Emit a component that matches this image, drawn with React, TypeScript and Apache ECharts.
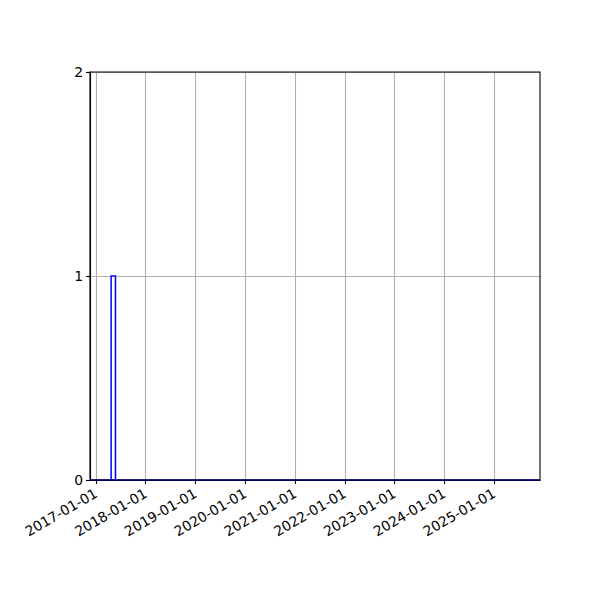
import React, { useEffect, useRef } from 'react';
import * as echarts from 'echarts';

// histogram bins: edges (dates) and counts per bin
const binEdges = ['2016-11-18', '2017-04-22', '2017-05-24', '2025-12-04'];
const binCounts = [0, 1, 0];

// x tick labels (yearly)
const xTicks = [
  '2017-01-01', '2018-01-01', '2019-01-01', '2020-01-01', '2021-01-01',
  '2022-01-01', '2023-01-01', '2024-01-01', '2025-01-01',
];
const yTicks = [0, 1, 2];

const toTs = (d: string) => {
  const [y, m, day] = d.split('-').map(Number);
  return Date.UTC(y, m - 1, day);
};

const App: React.FC = () => {
  const chartRef = useRef<HTMLDivElement>(null);

  useEffect(() => {
    document.body.style.margin = '0';
    if (!chartRef.current) return;
    const chart = echarts.init(chartRef.current, undefined, { renderer: 'svg' });

    const font = 'DejaVu Sans';
    const data = binCounts.map((c, i) => [toTs(binEdges[i]), toTs(binEdges[i + 1]), c]);

    const option: echarts.EChartsOption = {
      animation: false,
      backgroundColor: '#ffffff',
      grid: { left: 90, right: 60, top: 72, bottom: 120 },
      xAxis: {
        type: 'value',
        min: toTs(binEdges[0]),
        max: toTs(binEdges[binEdges.length - 1]),
        axisLine: { show: true, onZero: false, lineStyle: { color: '#000', width: 1.1 } },
        axisTick: {
          show: true,
          length: 4,
          lineStyle: { color: '#000', width: 1.1 },
          customValues: xTicks.map(toTs),
        } as any,
        axisLabel: {
          rotate: 30,
          margin: 12,
          color: '#000',
          fontFamily: font,
          fontSize: 13.9,
          customValues: xTicks.map(toTs),
          formatter: (v: number) => new Date(v).toISOString().slice(0, 10),
        } as any,
        splitLine: { show: true, lineStyle: { color: '#b0b0b0', width: 1.1 } },
      },
      yAxis: {
        type: 'value',
        min: yTicks[0],
        max: yTicks[yTicks.length - 1],
        interval: 1,
        axisLine: { show: true, lineStyle: { color: '#000', width: 1.1 } },
        axisTick: { show: true, length: 4, lineStyle: { color: '#000', width: 1.1 } },
        axisLabel: {
          margin: 7,
          color: '#000',
          fontFamily: font,
          fontSize: 13.9,
        },
        splitLine: { show: true, lineStyle: { color: '#b0b0b0', width: 1.1 } },
      },
      series: [
        {
          type: 'custom',
          encode: { x: [0, 1], y: 2 },
          data,
          z: 5,
          renderItem: (params: any, api: any) => {
            const count = api.value(2);
            const p0 = api.coord([api.value(0), count]);
            const p1 = api.coord([api.value(1), 0]);
            if (!count) {
              return {
                type: 'line',
                shape: { x1: p0[0], y1: p1[1], x2: p1[0], y2: p1[1] },
                style: { stroke: '#0000ff', lineWidth: 1.5 },
              };
            }
            return {
              type: 'rect',
              shape: { x: p0[0], y: p0[1], width: p1[0] - p0[0], height: p1[1] - p0[1] },
              style: { fill: '#ffffff', stroke: '#0000ff', lineWidth: 1.5 },
            };
          },
        } as any,
      ],
      graphic: [
        {
          type: 'rect',
          z: 100,
          shape: { x: 90, y: 72, width: 450, height: 408 },
          style: { fill: 'none', stroke: '#000', lineWidth: 1.1 },
          silent: true,
        },
      ],
    };

    chart.setOption(option);
    return () => {
      chart.dispose();
    };
  }, []);

  return <div ref={chartRef} style={{ width: 600, height: 600 }} />;
};

export default App;
